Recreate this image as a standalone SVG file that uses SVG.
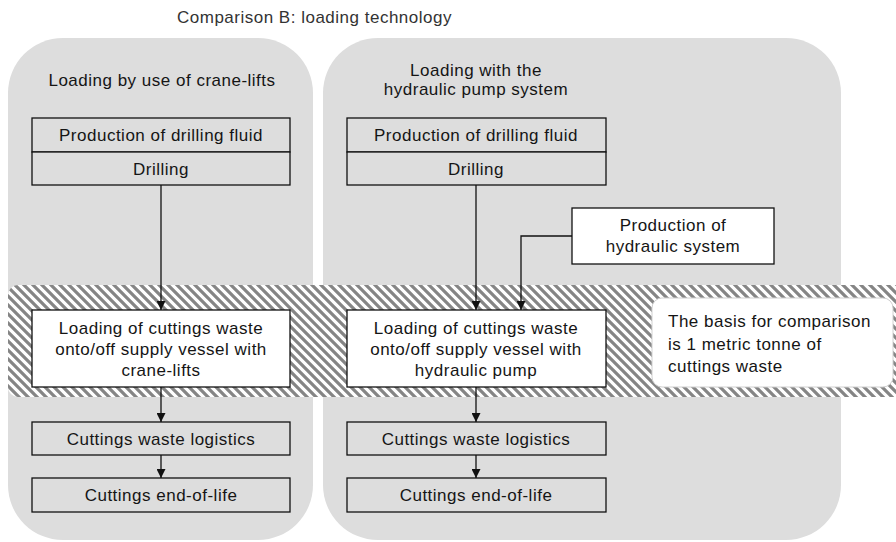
<svg xmlns="http://www.w3.org/2000/svg" width="896" height="542" viewBox="0 0 896 542">
  <style>
    text { font-family: "Liberation Sans", Arial, sans-serif; font-size: 17px; letter-spacing: 0.5px; fill: #151515; text-anchor: middle; }
    .title { fill: #333; text-anchor: start; }
    .left { text-anchor: start; }
    .panel { fill: #dddddd; }
    .box { fill: #dddddd; stroke: #111; stroke-width: 1.3; }
    .wbox { fill: #ffffff; stroke: #111; stroke-width: 1.3; }
    .note { fill: #ffffff; stroke: #d0d0d0; stroke-width: 1; }
    .conn { fill: none; stroke: #111; stroke-width: 1.3; }
  </style>
  <defs>
    <pattern id="hatch" width="9" height="9" patternUnits="userSpaceOnUse">
      <rect width="9" height="9" fill="#ffffff"/>
      <path d="M-2,-2 L11,11 M-5,4 L5,14 M4,-5 L14,5" stroke="#858585" stroke-width="3.2"/>
    </pattern>
    <marker id="arrow" viewBox="0 0 10 10" refX="10" refY="5" markerWidth="9" markerHeight="9" markerUnits="userSpaceOnUse" orient="auto">
      <path d="M0,0 L10,5 L0,10 Z" fill="#111"/>
    </marker>
  </defs>

  <rect width="896" height="542" fill="#ffffff"/>

  <text class="title" x="177" y="23">Comparison B: loading technology</text>

  <!-- scenario panels -->
  <g id="panel-crane">
    <rect class="panel" x="8" y="38" width="305" height="502" rx="55" ry="55"/>
    <text x="162" y="86">Loading by use of crane-lifts</text>
  </g>
  <g id="panel-hydraulic">
    <rect class="panel" x="323" y="38" width="518" height="502" rx="55" ry="55"/>
    <text x="476" y="76">Loading with the</text>
    <text x="476" y="95">hydraulic pump system</text>
  </g>

  <!-- comparison band across both scenarios -->
  <rect id="comparison-band" x="8" y="285" width="900" height="112" rx="10" ry="10" fill="url(#hatch)"/>

  <!-- crane-lift chain -->
  <g id="crane-fluid">
    <rect class="box" x="32" y="118" width="258" height="34"/>
    <text x="161" y="141">Production of drilling fluid</text>
  </g>
  <g id="crane-drilling">
    <rect class="box" x="32" y="152" width="258" height="33"/>
    <text x="161" y="175">Drilling</text>
  </g>
  <g id="crane-loading">
    <rect class="wbox" x="32" y="310" width="258" height="77"/>
    <text x="161" y="334">Loading of cuttings waste</text>
    <text x="161" y="355">onto/off supply vessel with</text>
    <text x="161" y="376">crane-lifts</text>
  </g>
  <g id="crane-logistics">
    <rect class="box" x="32" y="422" width="258" height="33"/>
    <text x="161" y="445">Cuttings waste logistics</text>
  </g>
  <g id="crane-eol">
    <rect class="box" x="32" y="478" width="258" height="34"/>
    <text x="161" y="501">Cuttings end-of-life</text>
  </g>

  <!-- hydraulic pump chain -->
  <g id="hyd-fluid">
    <rect class="box" x="347" y="118" width="259" height="34"/>
    <text x="476" y="141">Production of drilling fluid</text>
  </g>
  <g id="hyd-drilling">
    <rect class="box" x="347" y="152" width="259" height="33"/>
    <text x="476" y="175">Drilling</text>
  </g>
  <g id="hyd-system">
    <rect class="wbox" x="572" y="208" width="202" height="56"/>
    <text x="673" y="231">Production of</text>
    <text x="673" y="252">hydraulic system</text>
  </g>
  <g id="hyd-loading">
    <rect class="wbox" x="347" y="310" width="259" height="77"/>
    <text x="476" y="334">Loading of cuttings waste</text>
    <text x="476" y="355">onto/off supply vessel with</text>
    <text x="476" y="376">hydraulic pump</text>
  </g>
  <g id="hyd-logistics">
    <rect class="box" x="347" y="422" width="259" height="33"/>
    <text x="476" y="445">Cuttings waste logistics</text>
  </g>
  <g id="hyd-eol">
    <rect class="box" x="347" y="478" width="259" height="34"/>
    <text x="476" y="501">Cuttings end-of-life</text>
  </g>

  <!-- functional unit note -->
  <g id="basis-note">
    <rect class="note" x="652" y="298" width="241" height="89" rx="10" ry="10"/>
    <text class="left" x="668" y="327">The basis for comparison</text>
    <text class="left" x="668" y="350">is 1 metric tonne of</text>
    <text class="left" x="668" y="372">cuttings waste</text>
  </g>

  <!-- connectors -->
  <g id="connectors">
    <path class="conn" d="M161,185 L161,310" marker-end="url(#arrow)"/>
    <path class="conn" d="M161,387 L161,422" marker-end="url(#arrow)"/>
    <path class="conn" d="M161,455 L161,478" marker-end="url(#arrow)"/>
    <path class="conn" d="M476,185 L476,310" marker-end="url(#arrow)"/>
    <path class="conn" d="M572,236 L521,236 L521,310" marker-end="url(#arrow)"/>
    <path class="conn" d="M476,387 L476,422" marker-end="url(#arrow)"/>
    <path class="conn" d="M476,455 L476,478" marker-end="url(#arrow)"/>
  </g>
</svg>
